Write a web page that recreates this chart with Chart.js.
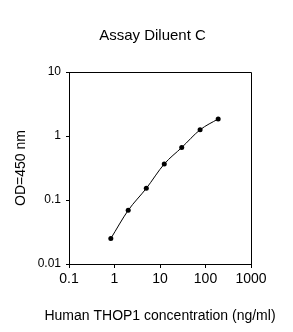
<!DOCTYPE html>
<html>
<head>
<meta charset="utf-8">
<script src="https://cdn.jsdelivr.net/npm/chart.js@4/dist/chart.umd.min.js"></script>
<style>
  html, body { margin: 0; padding: 0; background: #fff; }
  #wrap { width: 293px; height: 332px; }
</style>
</head>
<body>
<div id="wrap"><canvas id="chart-curva" width="293" height="332"></canvas></div>
<script>
// Curva estándar ELISA
const concentraciones = [0.83, 2.0, 5.0, 12.4, 30, 76, 190];
const densidades      = [0.025, 0.069, 0.152, 0.365, 0.66, 1.25, 1.85];
const ticksX          = [0.1, 1, 10, 100, 1000];
const ticksY          = [0.01, 0.1, 1, 10];

const TITULO   = 'Assay Diluent C';
const TITULO_X = 'Human THOP1 concentration (ng/ml)';
const TITULO_Y = 'OD=450 nm';
const FUENTE   = '"Liberation Sans", Arial, sans-serif';

// marco superior/derecho + títulos (el del eje X es más ancho que el área)
const marco = {
  id: 'marco',
  afterDraw(chart) {
    const { ctx, chartArea: a } = chart;
    ctx.save();
    ctx.strokeStyle = '#000';
    ctx.lineWidth = 1;
    ctx.beginPath();
    ctx.moveTo(a.left, a.top + 0.5);
    ctx.lineTo(a.right + 0.5, a.top + 0.5);
    ctx.lineTo(a.right + 0.5, a.bottom);
    ctx.stroke();
    ctx.fillStyle = '#000';
    ctx.textAlign = 'center';
    ctx.textBaseline = 'middle';
    ctx.font = `15px ${FUENTE}`;
    ctx.fillText(TITULO, 152.5, 36);
    ctx.font = `14px ${FUENTE}`;
    ctx.fillText(TITULO_X, (a.left + a.right) / 2, 316);
    ctx.restore();
  },
};

const fijarTicks = lista => scale => {
  scale.ticks = lista.map(v => ({ value: v }));
};

new Chart(document.getElementById('chart-curva'), {
  type: 'line',
  data: {
    datasets: [{
      data: concentraciones.map((x, i) => ({ x, y: densidades[i] })),
      borderColor:      '#000',
      backgroundColor:  '#000',
      borderWidth:      1,
      pointRadius:      2.5,
      pointBorderWidth: 0,
      cubicInterpolationMode: 'monotone',
      fill: false,
    }],
  },
  options: {
    responsive: false,
    animation:  false,
    layout: { padding: { top: 72, right: 42, left: 0, bottom: 0 } },
    plugins: {
      legend:  { display: false },
      tooltip: { enabled: false },
    },
    scales: {
      x: {
        type: 'logarithmic',
        min: 0.1,
        max: 1000,
        afterBuildTicks: fijarTicks(ticksX),
        afterFit: s => { s.height = 68; },
        border: { color: '#000', width: 1 },
        grid:   { drawOnChartArea: false, color: '#000', tickLength: 4 },
        ticks:  {
          color: '#000', padding: 3, maxRotation: 0, autoSkip: false,
          font: { family: FUENTE, size: 14 },
          callback: v => String(v),
        },
      },
      y: {
        type: 'logarithmic',
        min: 0.01,
        max: 10,
        afterBuildTicks: fijarTicks(ticksY),
        afterFit: s => { s.width = 69; },
        border: { color: '#000', width: 1 },
        grid:   { drawOnChartArea: false, color: '#000', tickLength: 3 },
        ticks:  {
          color: '#000', padding: 5, autoSkip: false,
          font: { family: FUENTE, size: 12 },
          callback: v => String(v),
        },
        title: {
          display: true, text: TITULO_Y, color: '#000',
          font: { family: FUENTE, size: 14 },
          padding: { top: 13, bottom: 0 },
        },
      },
    },
  },
  plugins: [marco],
});
</script>
</body>
</html>
